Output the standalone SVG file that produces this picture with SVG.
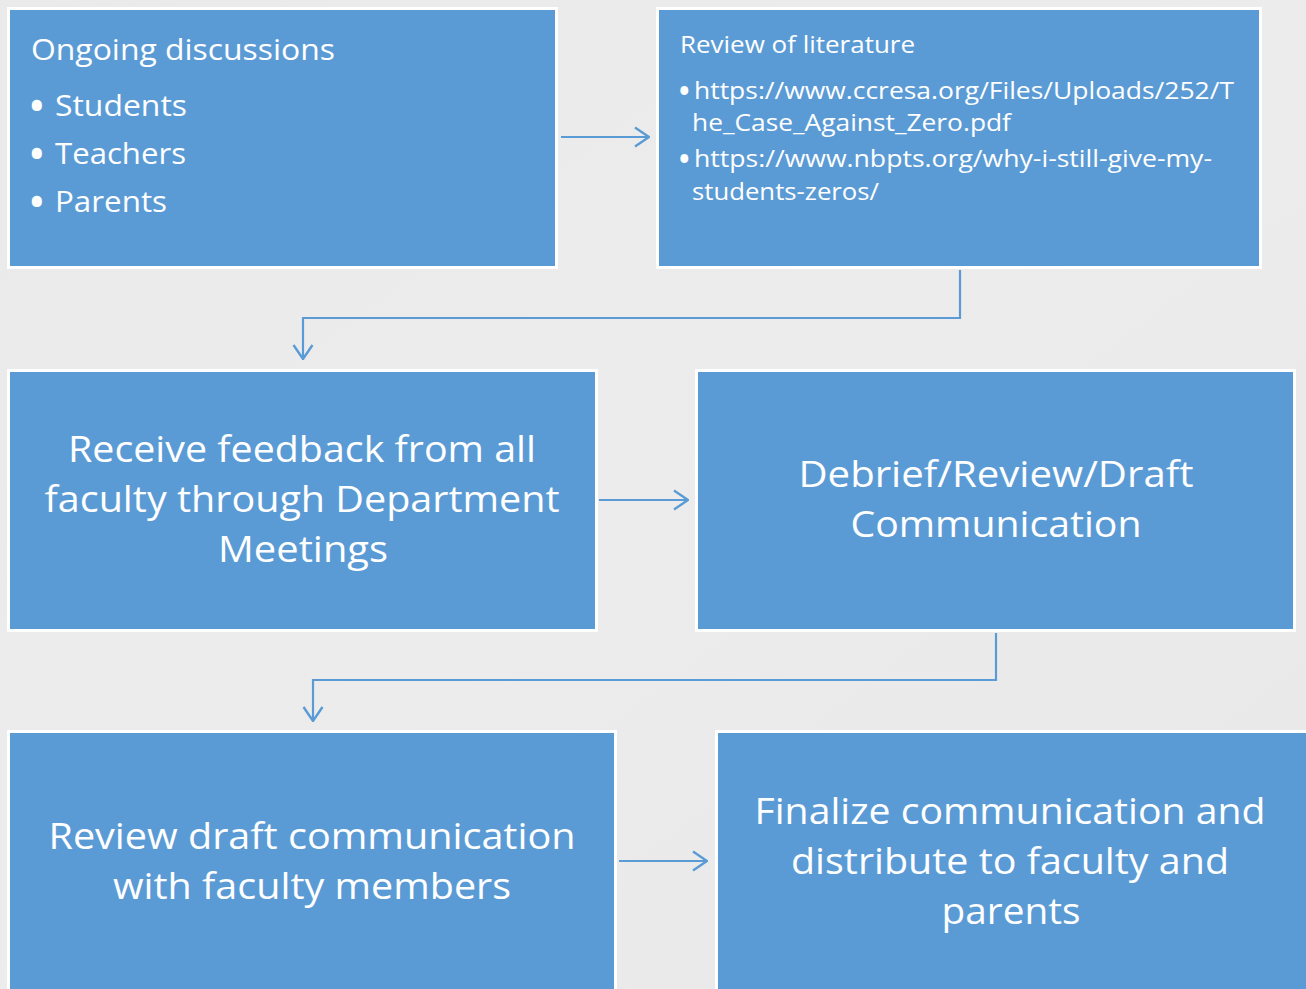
<svg xmlns="http://www.w3.org/2000/svg" width="1306" height="989" viewBox="0 0 1306 989">
<style>
.box{fill:#5b9bd5;stroke:#ffffff;stroke-width:3}
.t{font-family:"Open Sans","Noto Sans",sans-serif;fill:#ffffff}
.big{font-size:37px}
.mid{font-size:29px}
.sm{font-size:24px}
.b1{font-size:36px;font-weight:bold}
.b2{font-size:28px;font-weight:bold}
.c{text-anchor:middle}
.conn{fill:none;stroke:#5b9bd5;stroke-width:2.2}
</style>
<defs>
<marker id="ah" viewBox="0 0 16 22" refX="15" refY="11" markerWidth="16" markerHeight="22" markerUnits="userSpaceOnUse" orient="auto">
<path d="M1,1.5 L15,11 L1,20.5" fill="none" stroke="#5b9bd5" stroke-width="2.4"/>
</marker>
<linearGradient id="bg" x1="0" y1="0" x2="1" y2="1">
<stop offset="0" stop-color="#eaeaea"/>
<stop offset="0.5" stop-color="#ececec"/>
<stop offset="1" stop-color="#e8e8e8"/>
</linearGradient>
</defs>
<rect x="0" y="0" width="1306" height="989" fill="url(#bg)"/>
<g id="connectors">
<path class="conn" d="M561,137 H649" marker-end="url(#ah)"/>
<path class="conn" d="M960,270 V318 H303 V359" marker-end="url(#ah)"/>
<path class="conn" d="M599,500 H688" marker-end="url(#ah)"/>
<path class="conn" d="M996,633 V680 H313 V721" marker-end="url(#ah)"/>
<path class="conn" d="M619,861 H707" marker-end="url(#ah)"/>
</g>
<g id="node1">
<rect class="box" x="8.5" y="8.5" width="548" height="259"/>
<text class="t mid" x="31" y="60" textLength="304" lengthAdjust="spacingAndGlyphs">Ongoing discussions</text>
<text class="t mid" x="30" y="116"><tspan class="b1" dy="3">•</tspan><tspan x="55" dy="-3" textLength="132" lengthAdjust="spacingAndGlyphs">Students</tspan></text>
<text class="t mid" x="30" y="164"><tspan class="b1" dy="3">•</tspan><tspan x="55" dy="-3" textLength="131" lengthAdjust="spacingAndGlyphs">Teachers</tspan></text>
<text class="t mid" x="30" y="212"><tspan class="b1" dy="3">•</tspan><tspan x="55" dy="-3" textLength="112" lengthAdjust="spacingAndGlyphs">Parents</tspan></text>
</g>
<g id="node2">
<rect class="box" x="657.5" y="8.5" width="603" height="259"/>
<text class="t sm" x="680" y="53" textLength="235" lengthAdjust="spacingAndGlyphs">Review of literature</text>
<text class="t sm" x="679" y="99"><tspan class="b2" dy="2">•</tspan><tspan x="694" dy="-2" textLength="540" lengthAdjust="spacingAndGlyphs">https://www.ccresa.org/Files/Uploads/252/T</tspan></text>
<text class="t sm" x="692" y="131" textLength="319" lengthAdjust="spacingAndGlyphs">he_Case_Against_Zero.pdf</text>
<text class="t sm" x="679" y="167"><tspan class="b2" dy="2">•</tspan><tspan x="694" dy="-2" textLength="518" lengthAdjust="spacingAndGlyphs">https://www.nbpts.org/why-i-still-give-my-</tspan></text>
<text class="t sm" x="692" y="200" textLength="187" lengthAdjust="spacingAndGlyphs">students-zeros/</text>
</g>
<g id="node3">
<rect class="box" x="8.5" y="370.5" width="588" height="260"/>
<text class="t big c" x="302" y="462" textLength="468" lengthAdjust="spacingAndGlyphs">Receive feedback from all</text>
<text class="t big c" x="302" y="512" textLength="515" lengthAdjust="spacingAndGlyphs">faculty through Department</text>
<text class="t big c" x="303" y="562" textLength="170" lengthAdjust="spacingAndGlyphs">Meetings</text>
</g>
<g id="node4">
<rect class="box" x="696.5" y="370.5" width="598" height="260"/>
<text class="t big c" x="996" y="487" textLength="395" lengthAdjust="spacingAndGlyphs">Debrief/Review/Draft</text>
<text class="t big c" x="996" y="537" textLength="291" lengthAdjust="spacingAndGlyphs">Communication</text>
</g>
<g id="node5">
<rect class="box" x="8.5" y="731.5" width="607" height="270"/>
<text class="t big c" x="312" y="849" textLength="527" lengthAdjust="spacingAndGlyphs">Review draft communication</text>
<text class="t big c" x="312" y="899" textLength="398" lengthAdjust="spacingAndGlyphs">with faculty members</text>
</g>
<g id="node6">
<rect class="box" x="716.5" y="731.5" width="600" height="270"/>
<text class="t big c" x="1010" y="824" textLength="511" lengthAdjust="spacingAndGlyphs">Finalize communication and</text>
<text class="t big c" x="1010" y="874" textLength="438" lengthAdjust="spacingAndGlyphs">distribute to faculty and</text>
<text class="t big c" x="1011" y="924" textLength="139" lengthAdjust="spacingAndGlyphs">parents</text>
</g>
</svg>
